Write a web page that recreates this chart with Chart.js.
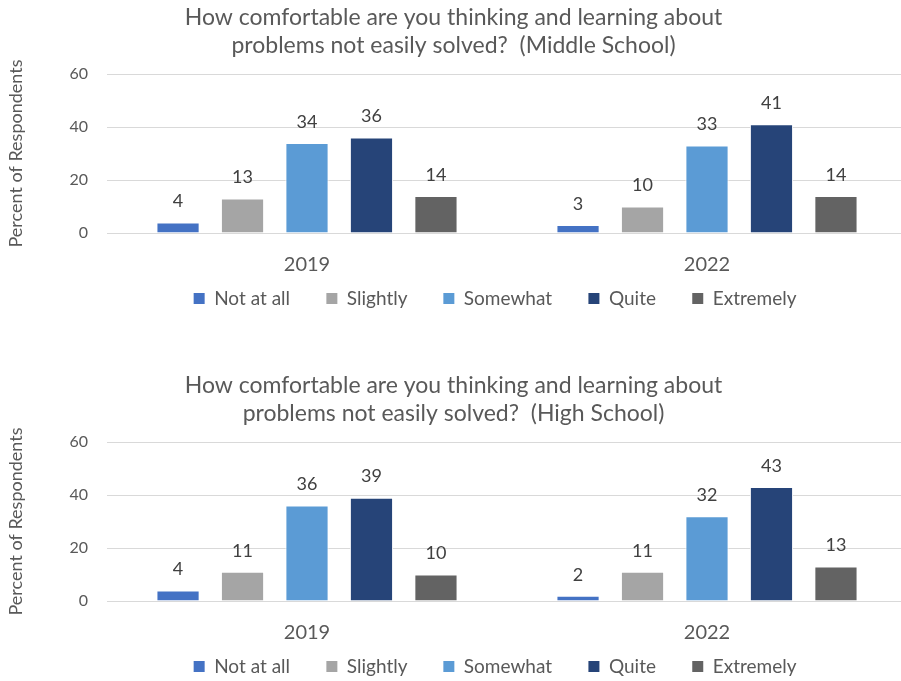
<!DOCTYPE html>
<html lang="en">
<head>
    <meta charset="UTF-8">
    <title>Thinking and Learning About Hard Problems</title>
    <script src="https://cdn.jsdelivr.net/npm/chart.js"></script>
    <style>
        * {
            margin: 0;
            padding: 0;
            box-sizing: border-box;
        }

        body {
            background: #ffffff;
            width: 901px;
            height: 681px;
            overflow: hidden;
            position: relative;
        }

        .chart-box {
            position: absolute;
            left: 0;
            width: 901px;
            height: 313px;
            overflow: hidden;
        }

        .chart-box canvas {
            display: block;
        }

        #msBox { top: 0; }
        #hsBox { top: 368px; }
    </style>
</head>
<body>
    <div class="chart-box" id="msBox"><canvas id="msChart" width="920" height="318"></canvas></div>
    <div class="chart-box" id="hsBox"><canvas id="hsChart" width="920" height="318"></canvas></div>

    <script>
        // survey years and answer options
        const years = ['2019', '2022'];
        const responses = ['Not at all', 'Slightly', 'Somewhat', 'Quite', 'Extremely'];
        const responseColors = ['#4472C4', '#A5A5A5', '#5B9BD5', '#264478', '#636363'];
        const yTicks = [0, 20, 40, 60];

        // percent of respondents per answer, [2019, 2022]
        const msNotAtAll = [4, 3];
        const msSlightly = [13, 10];
        const msSomewhat = [34, 33];
        const msQuite = [36, 41];
        const msExtremely = [14, 14];

        const hsNotAtAll = [4, 2];
        const hsSlightly = [11, 11];
        const hsSomewhat = [36, 32];
        const hsQuite = [39, 43];
        const hsExtremely = [10, 13];

        const msTitle = ['How comfortable are you thinking and learning about', 'problems not easily solved?  (Middle School)'];
        const hsTitle = ['How comfortable are you thinking and learning about', 'problems not easily solved?  (High School)'];

        const textColor = '#595959';
        const fontFamily = 'Lato, "Open Sans", sans-serif';
        const legendFontSize = 19;

        // the legend padding sets both the row height and the item gap,
        // so widen the gap between items with trailing spaces
        const measureCtx = document.createElement('canvas').getContext('2d');
        measureCtx.font = legendFontSize + 'px ' + fontFamily;
        const spaceWidth = measureCtx.measureText('\u00A0').width || 5;
        const itemGap = '\u00A0'.repeat(Math.max(0, Math.round(24 / spaceWidth)));

        // value labels above each bar
        const barValues = {
            id: 'barValues',
            afterDatasetsDraw(chart) {
                const ctx = chart.ctx;
                ctx.save();
                ctx.font = '18px ' + fontFamily;
                ctx.fillStyle = '#404040';
                ctx.textAlign = 'center';
                ctx.textBaseline = 'middle';
                chart.data.datasets.forEach((ds, i) => {
                    chart.getDatasetMeta(i).data.forEach((bar, j) => {
                        ctx.fillText(ds.data[j], bar.x, bar.y - 21);
                    });
                });
                ctx.restore();
            }
        };

        function makeChart(id, title, series) {
            new Chart(document.getElementById(id), {
                type: 'bar',
                data: {
                    labels: years,
                    datasets: responses.map((name, i) => ({
                        label: name,
                        data: series[i],
                        backgroundColor: responseColors[i],
                        borderColor: '#ffffff',
                        borderWidth: 1,
                        barPercentage: 0.67,
                        categoryPercentage: 0.806
                    }))
                },
                options: {
                    responsive: false,
                    animation: false,
                    layout: { padding: { top: 0, right: 13, bottom: 0, left: 0 } },
                    plugins: {
                        title: {
                            display: true,
                            text: title,
                            color: textColor,
                            font: { family: fontFamily, size: 23, weight: 'normal', lineHeight: '28px' },
                            padding: { top: 4, bottom: 14 }
                        },
                        legend: {
                            position: 'bottom',
                            fullSize: false,
                            labels: {
                                color: textColor,
                                font: { family: fontFamily, size: legendFontSize },
                                boxWidth: 11,
                                boxHeight: 11,
                                padding: 12,
                                generateLabels(chart) {
                                    const items = Chart.defaults.plugins.legend.labels.generateLabels(chart);
                                    items.forEach(item => {
                                        item.lineWidth = 0;
                                        item.text += itemGap;
                                    });
                                    return items;
                                }
                            }
                        },
                        tooltip: { enabled: false }
                    },
                    scales: {
                        x: {
                            grid: { display: false, drawTicks: false },
                            border: { display: false },
                            ticks: {
                                color: textColor,
                                font: { family: fontFamily, size: 20 },
                                padding: 20
                            },
                            // keep the category row tight above the legend
                            afterFit(scale) {
                                scale.height = 44;
                            }
                        },
                        y: {
                            min: 0,
                            max: 60,
                            afterBuildTicks(scale) {
                                scale.ticks = yTicks.map(v => ({ value: v }));
                            },
                            grid: { color: '#D9D9D9', lineWidth: 1, drawTicks: false },
                            border: { display: false },
                            ticks: {
                                color: textColor,
                                font: { family: fontFamily, size: 16 },
                                padding: 19
                            },
                            title: {
                                display: true,
                                text: 'Percent of Respondents',
                                color: textColor,
                                font: { family: fontFamily, size: 18 },
                                padding: { top: 5, bottom: 4 }
                            },
                            afterFit(scale) {
                                scale.width = 107;
                            }
                        }
                    }
                },
                plugins: [barValues]
            });
        }

        makeChart('msChart', msTitle, [msNotAtAll, msSlightly, msSomewhat, msQuite, msExtremely]);
        makeChart('hsChart', hsTitle, [hsNotAtAll, hsSlightly, hsSomewhat, hsQuite, hsExtremely]);
    </script>
</body>
</html>
